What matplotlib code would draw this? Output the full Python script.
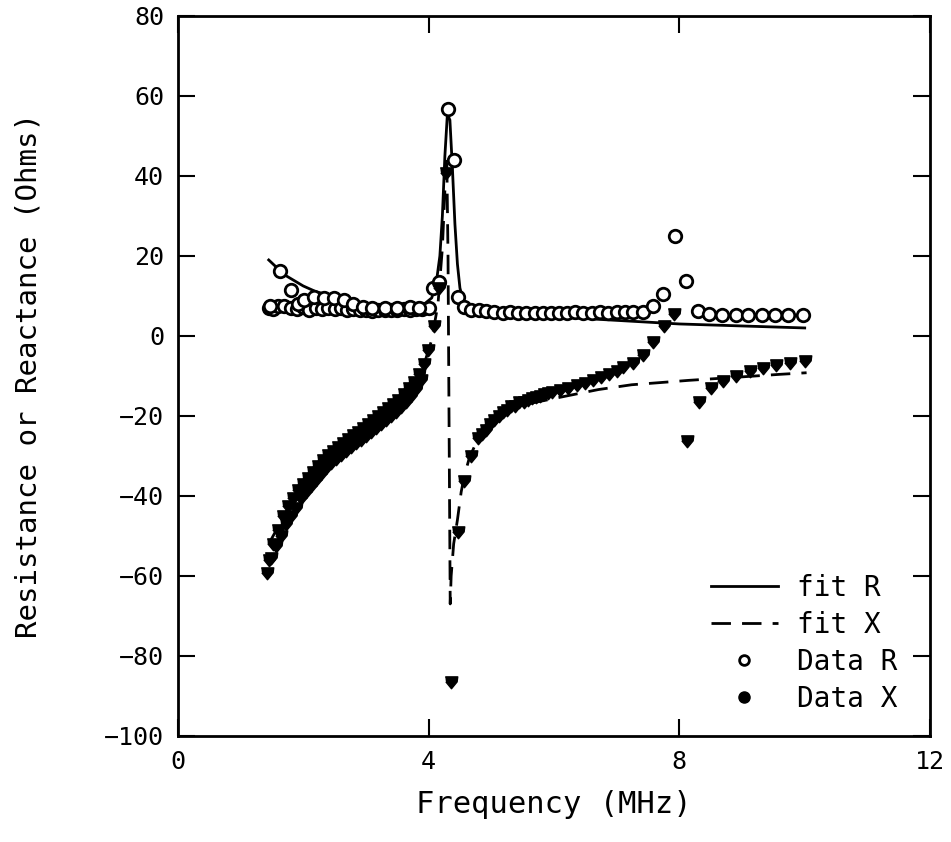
import matplotlib
matplotlib.use("Agg")
import matplotlib.pyplot as plt
from matplotlib.lines import Line2D

plt.rcParams['font.family'] = ['DejaVu Sans Mono']
plt.rcParams['font.size'] = 18

# fit R (solid)
fitR_f = [1.45, 1.7, 2.0, 2.2, 2.5, 3.0, 3.5, 3.9, 4.05, 4.12, 4.18, 4.22, 4.26, 4.3,
          4.34, 4.38, 4.42, 4.46, 4.5, 4.55, 4.62, 4.75, 5.0, 5.5, 6.0, 7.0, 8.0, 9.0, 10.0]
fitR_v = [19.0, 15.3, 12.5, 11.1, 9.8, 8.1, 7.4, 7.6, 9.5, 13.0, 20.0, 30.0, 45.0, 55.5,
          54.0, 42.0, 28.0, 18.0, 12.0, 9.0, 7.3, 6.4, 5.8, 5.2, 4.8, 3.9, 3.0, 2.5, 2.0]

# fit X (dashed)
fitX_f = [1.45, 1.8, 2.2, 2.6, 3.0, 3.4, 3.7, 3.9, 4.05, 4.15, 4.22, 4.27, 4.29, 4.31,
          4.33, 4.345, 4.36, 4.40, 4.46, 4.52, 4.57, 4.65, 4.75, 4.9, 5.1, 5.4, 5.64, 6.17,
          6.71, 7.24, 7.66, 8.15, 8.74, 9.6, 10.03]
fitX_v = [-52.0, -42.0, -34.0, -28.0, -23.0, -18.5, -13.5, -8.5, -1.0, 8.0, 22.0, 40.0, 45.0, 20.0,
          -30.0, -67.0, -60.0, -52.0, -46.0, -39.0, -35.0, -30.5, -27.0, -23.5, -20.5, -18.0, -16.8, -15.1,
          -13.4, -12.2, -11.7, -11.1, -10.5, -9.6, -9.2]

# Data R (open circles)
dataR_f = [1.45, 1.52, 1.60, 1.70, 1.80, 1.90, 2.00, 2.10, 2.20, 2.30, 2.40, 2.50, 2.60, 2.70,
           2.80, 2.90, 3.00, 3.10, 3.20, 3.30, 3.40, 3.50, 3.60, 3.70, 3.80, 3.90, 4.00,
           1.47, 1.63, 1.80, 1.92, 2.01, 2.17, 2.33, 2.49, 2.65, 2.80, 2.95, 3.10, 3.30, 3.50,
           3.70, 3.85, 4.07, 4.17, 4.31, 4.40, 4.47, 4.57, 4.68,
           4.80, 4.92, 5.05, 5.18, 5.30, 5.43, 5.56, 5.69, 5.82, 5.95, 6.08, 6.21, 6.34, 6.47,
           6.60, 6.73, 6.86, 7.00, 7.13, 7.26, 7.42, 7.58, 7.74, 7.93, 8.11, 8.30, 8.48, 8.68,
           8.90, 9.10, 9.32, 9.52, 9.74, 9.98]
dataR_v = [7.0, 6.8, 7.4, 7.6, 7.0, 6.8, 7.2, 6.6, 7.0, 6.8, 7.1, 6.7, 6.9, 6.5,
           6.7, 6.4, 6.6, 6.3, 6.5, 6.4, 6.6, 6.5, 6.8, 6.6, 6.7, 6.8, 7.0,
           7.5, 16.3, 11.5, 8.1, 8.9, 9.8, 9.4, 9.4, 8.9, 7.9, 7.3, 7.0, 7.0, 6.9,
           7.2, 7.0, 11.9, 13.6, 56.8, 44.0, 9.8, 7.3, 6.5,
           6.6, 6.2, 6.0, 5.8, 5.9, 5.7, 5.8, 5.7, 5.8, 5.7, 5.8, 5.7, 5.9, 5.8,
           5.8, 5.9, 5.8, 5.9, 6.0, 5.9, 6.0, 7.4, 10.6, 25.0, 13.8, 6.3, 5.4, 5.2,
           5.2, 5.2, 5.2, 5.2, 5.2, 5.2]

# Data X (filled markers)
dataX_f = [1.42, 1.45, 1.52, 1.60, 1.68, 1.76, 1.84, 1.92, 2.00, 2.08, 2.16, 2.24, 2.32, 2.40,
           2.48, 2.56, 2.64, 2.72, 2.80, 2.88, 2.96, 3.04, 3.12, 3.20, 3.28, 3.36, 3.44, 3.52,
           3.60, 3.68, 3.76, 3.84, 3.92, 3.99,
           1.49, 1.56, 1.64, 1.72, 1.80, 1.88, 1.96, 2.04, 2.12, 2.20, 2.28, 2.36, 2.44, 2.52,
           2.60, 2.68, 2.76, 2.84, 2.92, 3.00, 3.08, 3.16, 3.24, 3.32, 3.40, 3.48, 3.56, 3.64,
           3.72, 3.80, 3.88,
           4.09, 4.16, 4.28, 4.36, 4.47, 4.57, 4.68, 4.79, 4.92, 5.05, 5.19, 5.32, 5.45, 5.58,
           5.71, 5.84, 5.97, 6.10, 6.23, 6.36, 6.49, 6.62, 6.75, 6.88, 7.00, 7.10, 7.26, 7.42,
           7.58, 7.76, 7.92, 8.13, 8.32, 8.50, 8.69, 8.90, 9.12, 9.33, 9.54, 9.77, 10.00,
           4.85, 4.98, 5.12, 5.25, 5.38, 5.52, 5.65, 5.78, 5.91]
dataX_v = [-59.2, -56.0, -52.0, -48.5, -45.0, -42.5, -40.5, -38.5, -37.0, -35.5, -34.0, -32.5, -31.0, -29.8,
           -28.7, -27.7, -26.7, -25.7, -24.8, -23.9, -23.0, -22.1, -21.1, -20.1, -19.1, -18.1, -17.0, -15.9,
           -14.6, -13.1, -11.5, -9.5, -7.0, -3.6,
           -55.5, -52.5, -50.0, -47.0, -45.0, -43.0, -40.5, -39.0, -37.5, -36.0, -34.5, -33.0, -31.8, -30.7,
           -29.7, -28.7, -27.7, -26.8, -25.9, -25.0, -24.0, -23.0, -22.0, -21.0, -20.0, -18.9, -17.8, -16.5,
           -15.0, -13.3, -11.0,
           2.6, 12.0, 40.8, -86.4, -48.9, -36.2, -29.9, -25.6, -23.5, -21.0, -18.9, -17.6, -16.6, -15.9,
           -15.2, -14.6, -14.1, -13.5, -13.0, -12.3, -11.7, -11.0, -10.3, -9.5, -8.8, -7.7, -6.7, -4.8,
           -1.4, 2.5, 5.6, -26.2, -16.6, -13.1, -11.2, -9.9, -8.8, -8.1, -7.3, -6.8, -6.2,
           -24.5, -22.0, -20.0, -18.5, -17.5, -16.5, -15.6, -14.9, -14.3]

shield = [(-1.0, 0.9), (1.0, 0.9), (0.9, 0.1), (0.0, -1.0), (-0.9, 0.1)]

fig = plt.figure(figsize=(9.51, 8.42), dpi=100)
ax = fig.add_axes([0.187, 0.126, 0.791, 0.855])

ax.plot(fitR_f, fitR_v, color='black', lw=2)
ax.plot(fitX_f, fitX_v, color='black', lw=2, dashes=(7, 4))
ax.plot(dataR_f, dataR_v, ls='none', marker='o', ms=9, mfc='white', mec='black', mew=2)
ax.plot(dataX_f, dataX_v, ls='none', marker=shield, ms=9, color='black')

ax.set_xlim(0, 12)
ax.set_ylim(-100, 80)
ax.set_xticks([0, 4, 8, 12])
ax.set_yticks(range(-100, 81, 20))
ax.tick_params(direction='in', length=12, width=1.5, top=True, right=True, pad=10)
for s in ax.spines.values():
    s.set_linewidth(2)

ax.set_xlabel('Frequency (MHz)', fontsize=22)
ax.set_ylabel('Resistance or Reactance (Ohms)', fontsize=21)
ax.xaxis.set_label_coords(0.5, -0.075)
ax.yaxis.set_label_coords(-0.18, 0.5)

handles = [Line2D([], [], color='black', lw=2),
           Line2D([], [], color='black', lw=2, dashes=(7, 4)),
           Line2D([], [], ls='none', marker='o', ms=7, mfc='white', mec='black', mew=2),
           Line2D([], [], ls='none', marker='o', ms=8, color='black')]
ax.legend(handles, ['fit R', 'fit X', 'Data R', 'Data X'], loc='lower right',
          frameon=False, handlelength=2.4, handletextpad=0.7, labelspacing=0.33, fontsize=20,
          bbox_to_anchor=(0.99, -0.003))

fig.savefig('out.png', dpi=100)
